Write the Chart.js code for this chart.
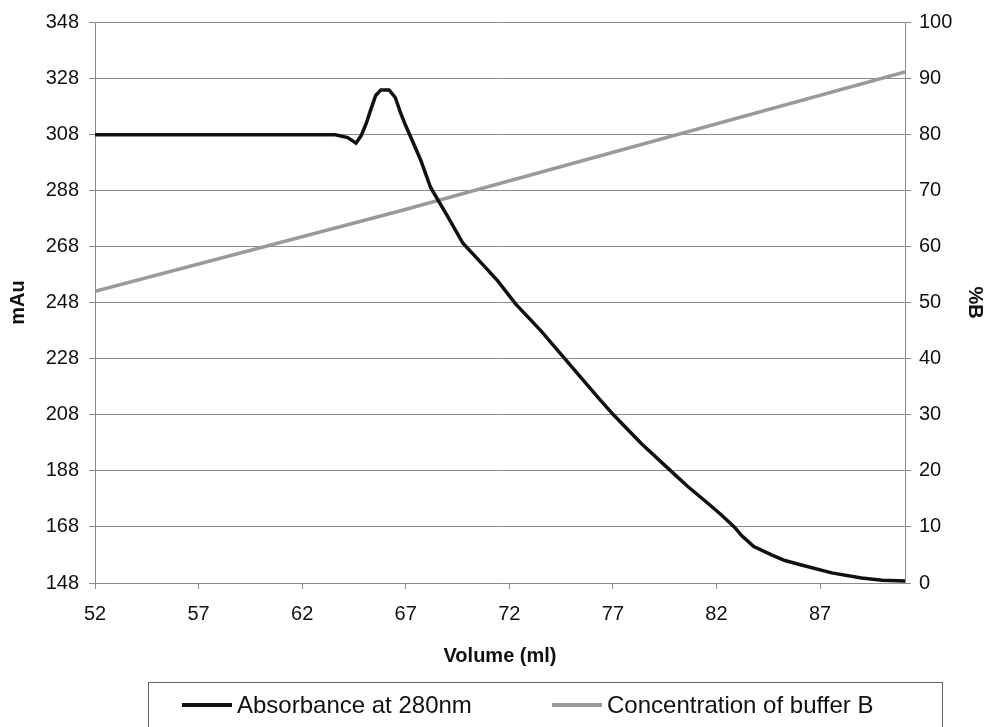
<!DOCTYPE html>
<html>
<head>
<meta charset="utf-8">
<script src="https://cdn.jsdelivr.net/npm/chart.js@4.4.1/dist/chart.umd.min.js"></script>
<style>
  html, body { margin: 0; padding: 0; background: #ffffff; }
  #wrap { width: 990px; height: 727px; }
</style>
</head>
<body>
<div id="wrap"><canvas id="c" width="990" height="727"></canvas></div>
<script>
// ---- data ----
const absVolume = [52, 55, 60, 63.6, 64.2, 64.6, 64.85, 65.1, 65.3, 65.55, 65.8, 66.2, 66.5, 66.76, 67.0, 67.24, 67.72, 68.2, 69.0, 69.76, 70.6, 71.45, 72.3, 73.53, 74.5, 75.46, 76.3, 77.06, 78.37, 79.82, 80.6, 81.41, 82.2, 82.87, 83.2, 83.8, 84.66, 85.3, 86.1, 87.56, 89, 90, 91.1];
const absValues = [307.8, 307.8, 307.8, 307.8, 306.8, 304.8, 307.5, 312, 316.5, 321.8, 323.8, 323.8, 321, 315.4, 311, 307, 298.8, 289, 279, 269.1, 262.5, 255.6, 247.5, 237.9, 229.5, 221.2, 214, 207.7, 197.7, 187.8, 182.5, 177.5, 172.5, 167.9, 165, 161, 158, 156, 154.4, 151.6, 149.8, 149, 148.7];
const bufVolume = [52, 66.8, 91.1];
const bufValues = [52.0, 66.4, 91.1];
const xTicks = [52, 57, 62, 67, 72, 77, 82, 87];
const seriesNames = ['Absorbance at 280nm', 'Concentration of buffer B'];
const axisTitles = { x: 'Volume (ml)', y: 'mAu', y2: '%B' };

const toPts = (xs, ys) => xs.map((x, i) => ({ x: x, y: ys[i] }));

const FONT = '"Liberation Sans", Arial, sans-serif';
const GRID = '#8a8a8a';

// legend drawn from the datasets' own labels and colours, inside a framed box
const legendPlugin = {
  id: 'framedLegend',
  afterDraw(chart) {
    const ctx = chart.ctx;
    const ds = chart.data.datasets;
    const cy = 705;
    const items = [{ x: 182 }, { x: 552 }];
    ctx.save();
    ctx.strokeStyle = '#666';
    ctx.lineWidth = 1;
    ctx.strokeRect(148.5, 682.5, 794, 60);
    ctx.font = '24px ' + FONT;
    ctx.textBaseline = 'middle';
    ctx.textAlign = 'left';
    ds.forEach((d, i) => {
      const x0 = items[i].x;
      ctx.strokeStyle = d.borderColor;
      ctx.lineWidth = 4;
      ctx.beginPath();
      ctx.moveTo(x0, cy);
      ctx.lineTo(x0 + 50, cy);
      ctx.stroke();
      ctx.fillStyle = '#111';
      ctx.fillText(d.label, x0 + 55, cy + 1);
    });
    ctx.restore();
  }
};

new Chart(document.getElementById('c'), {
  type: 'line',
  data: {
    datasets: [
      {
        label: seriesNames[0],
        data: toPts(absVolume, absValues),
        borderColor: '#111111',
        backgroundColor: '#111111',
        borderWidth: 3.5,
        pointRadius: 0,
        tension: 0,
        yAxisID: 'y'
      },
      {
        label: seriesNames[1],
        data: toPts(bufVolume, bufValues),
        borderColor: '#9a9a9a',
        backgroundColor: '#9a9a9a',
        borderWidth: 3.5,
        pointRadius: 0,
        tension: 0,
        yAxisID: 'y2'
      }
    ]
  },
  options: {
    responsive: false,
    animation: false,
    devicePixelRatio: 1,
    layout: { padding: { top: 20, left: 0, right: 0, bottom: 0 } },
    plugins: {
      tooltip: { enabled: false },
      legend: { display: false }
    },
    scales: {
      x: {
        type: 'linear',
        min: 52,
        max: 91.1,
        afterBuildTicks: (axis) => { axis.ticks = xTicks.map(v => ({ value: v })); },
        afterFit: (s) => { s.height = 144; },
        grid: { drawOnChartArea: false, drawTicks: true, tickLength: 6, color: GRID },
        border: { color: GRID, width: 1 },
        ticks: { color: '#111', font: { family: FONT, size: 20 }, padding: 13, maxRotation: 0, autoSkip: false },
        title: { display: true, text: axisTitles.x, color: '#111', font: { family: FONT, size: 20, weight: 'bold' }, padding: { top: 0, bottom: 59 } }
      },
      y: {
        position: 'left',
        min: 148,
        max: 348,
        afterFit: (s) => { s.width = 95; },
        ticks: { stepSize: 20, color: '#111', font: { family: FONT, size: 20 }, padding: 10 },
        grid: { color: GRID, tickLength: 6, lineWidth: 1 },
        border: { color: GRID, width: 1 },
        title: { display: true, text: axisTitles.y, color: '#111', font: { family: FONT, size: 20, weight: 'bold' }, padding: { top: 6, bottom: 0 } }
      },
      y2: {
        position: 'right',
        min: 0,
        max: 100,
        afterFit: (s) => { s.width = 85; },
        ticks: { stepSize: 10, color: '#111', font: { family: FONT, size: 20 }, padding: 8 },
        grid: { drawOnChartArea: false, color: GRID, tickLength: 6 },
        border: { color: GRID, width: 1 },
        title: { display: true, text: axisTitles.y2, color: '#111', font: { family: FONT, size: 20, weight: 'bold' }, padding: { top: 3, bottom: 0 } }
      }
    }
  },
  plugins: [legendPlugin]
});
</script>
</body>
</html>
